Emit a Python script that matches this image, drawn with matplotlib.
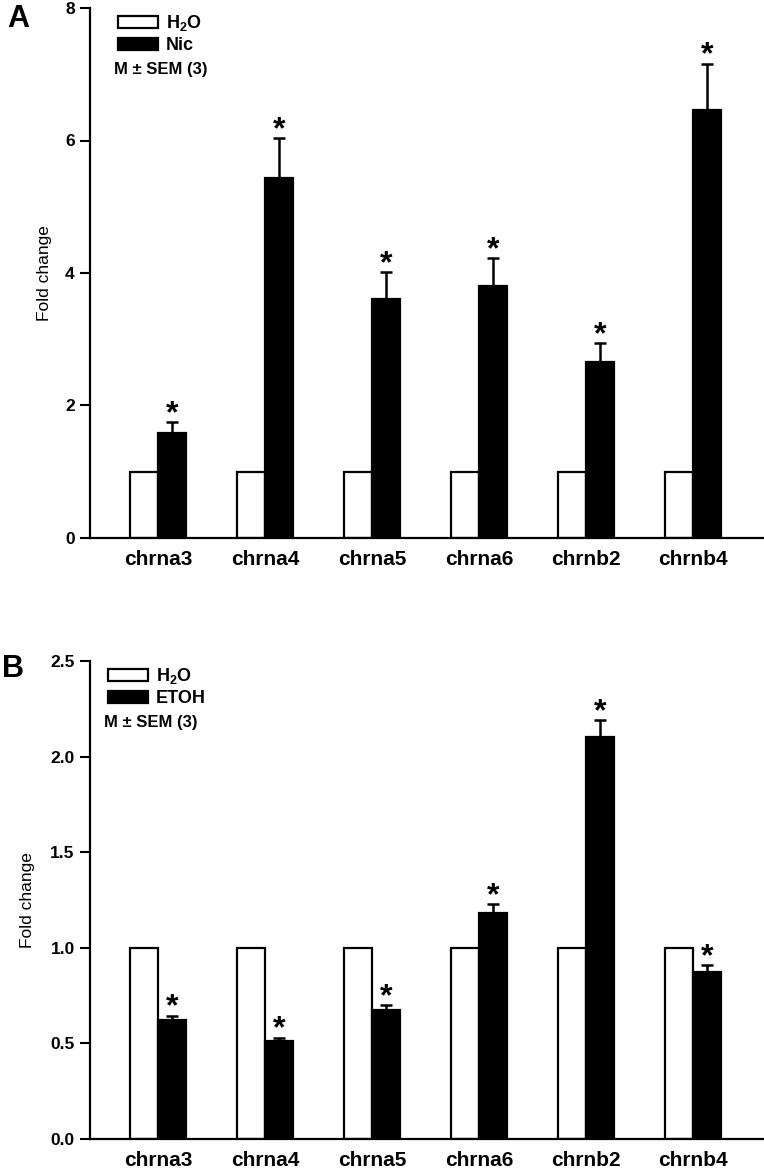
import matplotlib
matplotlib.use("Agg")
import matplotlib.pyplot as plt
from matplotlib.patches import Patch
import numpy as np

plt.rcParams['font.family'] = ['Liberation Sans', 'DejaVu Sans']
plt.rcParams['mathtext.fontset'] = 'custom'
plt.rcParams['mathtext.rm'] = 'Liberation Sans:bold'
plt.rcParams['mathtext.bf'] = 'Liberation Sans:bold'

genes = ['chrna3', 'chrna4', 'chrna5', 'chrna6', 'chrnb2', 'chrnb4']

# panel A: nicotine
ctrl_a = [1, 1, 1, 1, 1, 1]
nic = [1.58, 5.44, 3.61, 3.81, 2.66, 6.46]
nic_sem = [0.17, 0.60, 0.40, 0.42, 0.28, 0.70]

# panel B: ethanol
ctrl_b = [1, 1, 1, 1, 1, 1]
etoh = [0.62, 0.51, 0.675, 1.18, 2.105, 0.875]
etoh_sem = [0.025, 0.02, 0.025, 0.05, 0.085, 0.035]

W, H = 764, 1170
fig = plt.figure(figsize=(W / 100, H / 100), dpi=100)

def px_axes(left, top, right, bottom):
    return fig.add_axes([left / W, 1 - bottom / H, (right - left) / W, (bottom - top) / H])

axA = px_axes(90, 8, 764, 538)
axB = px_axes(90, 661, 764, 1139)

x = np.arange(len(genes))
bw = 0.26

def panel(ax, ctrl, treat, sem, ymax, yticks, yfmt, treat_name, leg_x, lab_x):
    ax.bar(x - bw / 2, ctrl, bw, color='white', edgecolor='black', linewidth=1.6)
    ax.bar(x + bw / 2, treat, bw, color='black', edgecolor='black', linewidth=1.6)
    ax.errorbar(x + bw / 2, treat, yerr=[np.zeros(len(sem)), sem], fmt='none',
                ecolor='black', elinewidth=1.8, capsize=4.5, capthick=1.8)
    for xi, v, s in zip(x, treat, sem):
        ax.annotate('*', (xi + bw / 2, v + s), xytext=(0, 0), textcoords='offset points',
                    ha='center', va='baseline', fontsize=23, fontweight='bold')
    ax.set_xlim(-0.636, 5.664)
    ax.set_ylim(0, ymax)
    ax.set_yticks(yticks)
    ax.set_yticklabels([yfmt.format(t) for t in yticks], fontsize=12.5, fontweight='bold')
    ax.set_xticks(x)
    ax.set_xticklabels(genes, fontsize=15, fontweight='bold')
    ax.tick_params(axis='x', length=0, pad=9)
    ax.tick_params(axis='y', direction='out', length=7, width=1.5, pad=4)
    for s in ['top', 'right']:
        ax.spines[s].set_visible(False)
    for s in ['left', 'bottom']:
        ax.spines[s].set_linewidth(1.6)
    ax.set_ylabel('Fold change', fontsize=12.5)
    ax.yaxis.set_label_coords(lab_x, 0.5)
    handles = [Patch(facecolor='white', edgecolor='black', linewidth=1.6),
               Patch(facecolor='black', edgecolor='black', linewidth=1.6)]
    leg = ax.legend(handles, ['H$_\\mathrm{2}$O', treat_name], loc='upper left',
                    bbox_to_anchor=(leg_x, 1.0), frameon=False, fontsize=13,
                    handlelength=2.2, handleheight=0.62, handletextpad=0.45,
                    labelspacing=0.2, borderpad=0.3, borderaxespad=0)
    for t in leg.get_texts():
        t.set_fontweight('bold')
    ax.annotate('M \u00b1 SEM (3)', (leg_x + 0.002, 1.0), xycoords='axes fraction',
                xytext=(0, -44.5), textcoords='offset points', fontsize=12,
                fontweight='bold', va='center', ha='left')

panel(axA, ctrl_a, nic, nic_sem, 8, [0, 2, 4, 6, 8], '{:g}', 'Nic', 0.034, -0.056)
panel(axB, ctrl_b, etoh, etoh_sem, 2.5, [0, 0.5, 1.0, 1.5, 2.0, 2.5], '{:.1f}', 'ETOH', 0.019, -0.082)

fig.text(7 / W, 1 - 27 / H, 'A', fontsize=22, fontweight='bold')
fig.text(2 / W, 1 - 677 / H, 'B', fontsize=22, fontweight='bold')

fig.savefig('out.png', dpi=100)
